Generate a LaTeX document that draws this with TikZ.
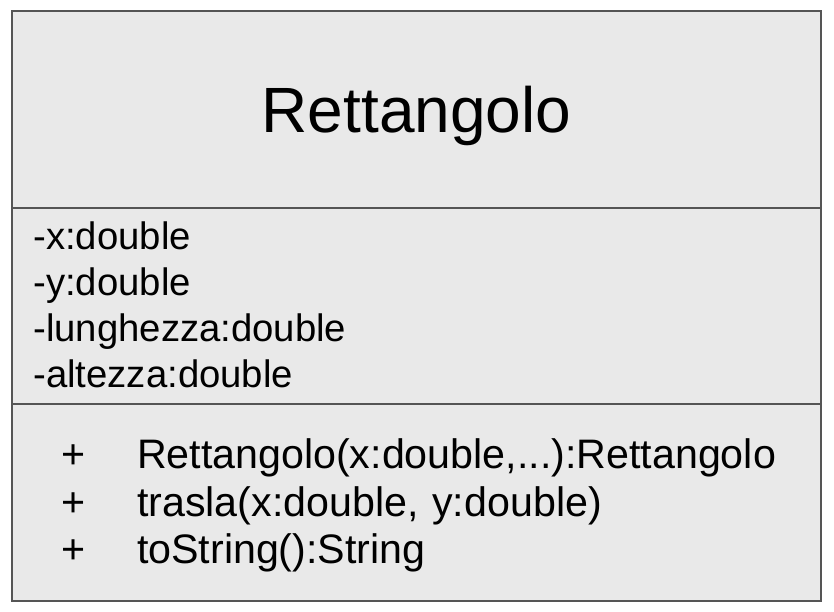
\documentclass[tikz,border=0pt]{standalone}
\usepackage{fontspec}
\setmainfont{Liberation Sans}
\usepackage{tikz}
\usetikzlibrary{positioning}
\definecolor{boxFill}{RGB}{233,233,233}
\definecolor{boxLine}{RGB}{85,85,85}
\tikzstyle{classBox} = [rectangle, 
minimum width=809pt, 
minimum height=590pt,
inner sep=0pt,
draw=boxLine, 
line width=2pt,
fill=boxFill]
\tikzstyle{className} = [rectangle, 
inner sep=0pt,
anchor=base,
font=\fontsize{64}{77}\selectfont]
\tikzstyle{attribute} = [rectangle, 
inner sep=0pt,
text width=400pt,
align=left,
text height=28pt,
text depth=8pt,
font=\fontsize{38.3}{46}\selectfont]
\tikzstyle{visibility} = [rectangle, 
inner sep=0pt,
text height=29pt,
text depth=9pt,
font=\fontsize{41.2}{48}\selectfont]
\tikzstyle{method} = [rectangle, 
inner sep=0pt,
text width=690pt,
align=left,
text height=29pt,
text depth=9pt,
font=\fontsize{41.2}{48}\selectfont]
\tikzstyle{divider} = [draw=boxLine, line width=2pt]

\begin{document}
\begin{tikzpicture}[x=1pt, y=1pt, node distance=46pt]
\useasboundingbox (0,0) rectangle (834,612);
\node (rettangolo) [classBox] at (416.5,306) {};
\node (name) [className] at (416.5,479) {Rettangolo};

\coordinate (div1) at (0,404);
\coordinate (div2) at (0,208);

% attributi
\node (attrX) [attribute] at (233.3,372) {-x:double};
\node (attrY) [attribute, below of=attrX] {-y:double};
\node (attrL) [attribute, below of=attrY] {-lunghezza:double};
\node (attrA) [attribute, below of=attrL] {-altezza:double};

% metodi
\node (plus1) [visibility] at (73.5,153) {+};
\node (plus2) [visibility, below of=plus1, yshift=-1.5pt] {+};
\node (plus3) [visibility, below of=plus2, yshift=-1.5pt] {+};
\node (metCostr) [method] at (482,153) {Rettangolo(x:double,...):Rettangolo};
\node (metTrasla) [method, below of=metCostr, yshift=-1.5pt] {trasla(x:double, y:double)};
\node (metString) [method, below of=metTrasla, yshift=-1.5pt] {toString():String};

\draw [divider] (rettangolo.west |- div1) -- (rettangolo.east |- div1);
\draw [divider] (rettangolo.west |- div2) -- (rettangolo.east |- div2);
\end{tikzpicture}
\end{document}
